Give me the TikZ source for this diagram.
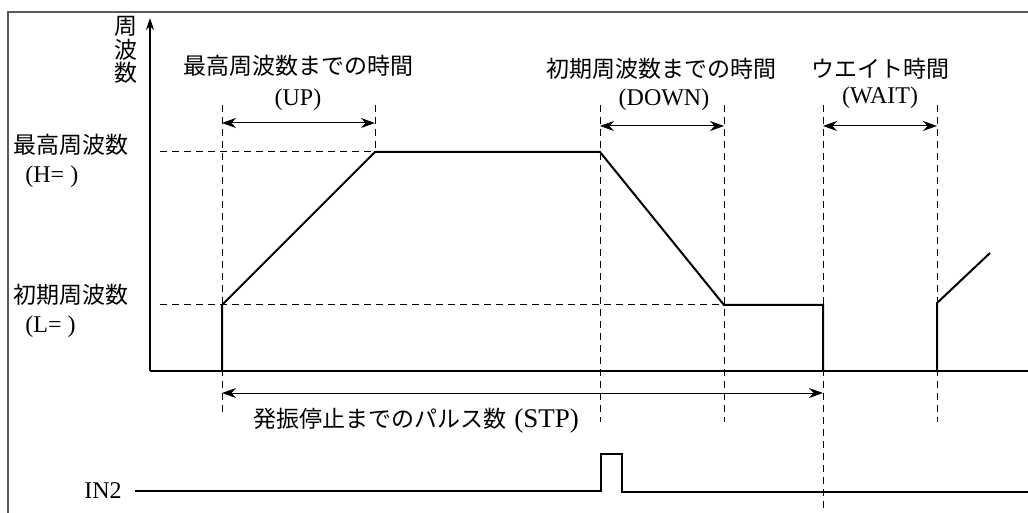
\documentclass[tikz,border=0pt]{standalone}
\usepackage{fontspec}
\setmainfont{Liberation Serif}
\newfontfamily\jpfont{Noto Sans CJK JP}
\usetikzlibrary{positioning, arrows.meta}

\begin{document}
\begin{tikzpicture}[x=0.5pt, y=-0.5pt,
    sig/.style={line width=1pt, line join=miter},
    guide/.style={line width=0.5pt, dash pattern=on 3.5pt off 2.5pt},
    span/.style={{Stealth[length=7pt,width=5pt]}-{Stealth[length=7pt,width=5pt]}, line width=0.5pt},
    jp/.style={font=\fontsize{11.5}{13}\selectfont\jpfont, inner sep=0pt},
    lat/.style={font=\fontsize{12}{14}\selectfont, inner sep=0pt}]

  \useasboundingbox (0,0) rectangle (1028,513);

  % ---- frame (top and left edge) ----
  \coordinate (fbl) at (8,513);
  \coordinate (ftl) at (8,12);
  \coordinate (ftr) at (1028,12);
  \draw[line width=0.7pt, gray!70!black] (fbl) -- (ftl) -- (ftr);

  % ---- axes ----
  \coordinate (o) at (150,371);
  \coordinate (ytip) at (150,18);
  \coordinate (xend) at (1028,371);
  \draw[line width=1pt, -{Stealth[length=6pt,width=4pt]}] (o) -- (ytip);
  \draw[line width=1pt] (o) -- (xend);
  \node[jp, align=center, font=\fontsize{11.5}{11.8}\selectfont\jpfont] (yname) at (126,50) {周\\波\\数};

  % ---- level guides ----
  \coordinate (hstart) at (160,152);
  \coordinate (lstart) at (160,305);
  \coordinate (hend) at (375,152);
  \coordinate (lend) at (724,305);
  \draw[guide] (hstart) -- (hend);
  \draw[guide] (lstart) -- (lend);

  % ---- time guides: name/x/bottom ----
  \foreach \n/\x/\yb in {g0/222/413, g1/375/152, g2/600/422, g3/724/422, g4/823/513, g5/937/422} {
    \coordinate (\n-a) at (\x,105);
    \coordinate (\n-b) at (\x,\yb);
    \draw[guide] (\n-a) -- (\n-b);
  }

  % ---- frequency profile ----
  \coordinate (s0) at (222,371);
  \coordinate (s1) at (222,305);
  \coordinate (s2) at (375,152);
  \coordinate (s3) at (600,152);
  \coordinate (s4) at (724,305);
  \coordinate (s5) at (823,305);
  \coordinate (s6) at (823,371);
  \draw[sig] (s0) -- (s1) -- (s2) -- (s3) -- (s4) -- (s5) -- (s6);
  % restart after WAIT
  \coordinate (r0) at (937,371);
  \coordinate (r1) at (937,303);
  \coordinate (r2) at (990,253);
  \draw[sig] (r0) -- (r1) -- (r2);

  % ---- time spans ----
  \coordinate (uprow) at (0,123);
  \coordinate (dnrow) at (0,126);
  \coordinate (stprow) at (0,393);
  \draw[span] (g0-a |- uprow) -- (g1-a |- uprow);
  \draw[span] (g2-a |- dnrow) -- (g3-a |- dnrow);
  \draw[span] (g4-a |- dnrow) -- (g5-a |- dnrow);
  \draw[span] (g0-a |- stprow) -- (g4-a |- stprow);

  % ---- labels ----
  \node[jp] (uptxt) at (298,66) {最高周波数までの時間};
  \node[lat] (upkey) at (298,100) {(UP)};
  \node[jp] (dntxt) at (661,69) {初期周波数までの時間};
  \node[lat] (dnkey) at (664,100) {(DOWN)};
  \node[jp] (wttxt) at (880,69) {ウエイト時間};
  \node[lat] (wtkey) at (880,98) {(WAIT)};
  \node[jp, anchor=west] (htxt) at (13,145) {最高周波数};
  \node[lat, anchor=west] (hkey) at (25,177) {(H= )};
  \node[jp, anchor=west] (ltxt) at (13,295) {初期周波数};
  \node[lat, anchor=west] (lkey) at (25,327) {(L= )};
  \node[jp, anchor=west] (stptxt) at (253,421) {発振停止までのパルス数\hspace{4pt}{\rmfamily\fontsize{13.5}{15}\selectfont (STP)}};

  % ---- IN2 input ----
  \node[lat, anchor=east] (in2) at (122,491) {IN2};
  \coordinate (i0) at (135,491);
  \coordinate (i1) at (601,491);
  \coordinate (i2) at (601,454);
  \coordinate (i3) at (622,454);
  \coordinate (i4) at (622,492);
  \coordinate (i5) at (1028,492);
  \draw[sig] (i0) -- (i1) -- (i2) -- (i3) -- (i4) -- (i5);

\end{tikzpicture}
\end{document}
